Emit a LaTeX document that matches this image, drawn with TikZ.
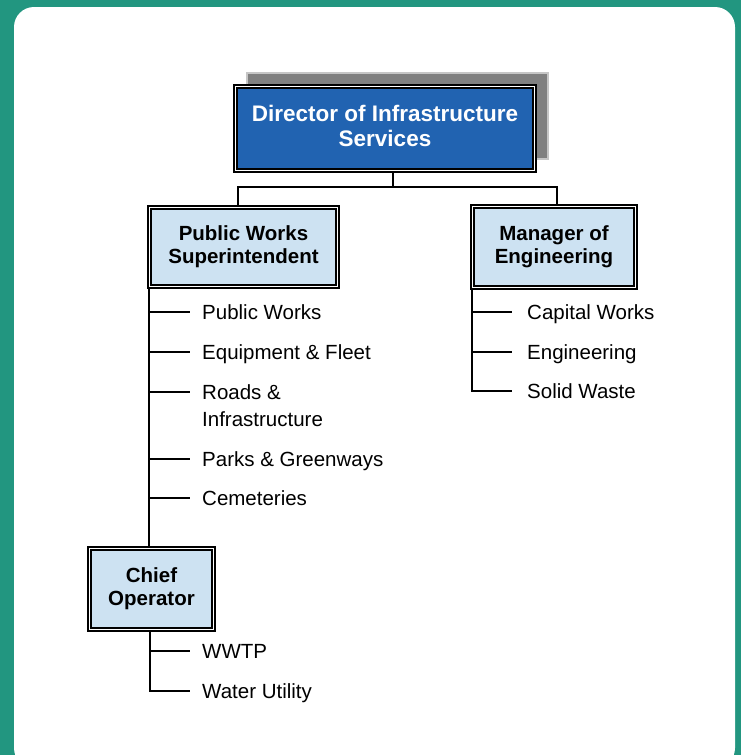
\documentclass[tikz,border=0pt]{standalone}
\usepackage{fontspec}
\setmainfont{Liberation Sans}
\usetikzlibrary{positioning}
\definecolor{orgteal}{RGB}{34,150,128}
\definecolor{orgblue}{RGB}{33,99,177}
\definecolor{orglight}{RGB}{205,226,242}
\definecolor{orgshade}{RGB}{128,128,128}

\tikzset{
  unitbox/.style={draw=black,double=white,double distance=1pt,line width=1.9pt,
    fill=orglight,align=center,inner sep=0pt,font=\bfseries\fontsize{20.5}{23}\selectfont},
  item/.style={anchor=west,inner xsep=12pt,inner ysep=0pt,text height=15pt,text depth=0pt,
    font=\fontsize{20.5}{27}\selectfont},
  tie/.style={line width=1.3pt,black}
}

\begin{document}
\begin{tikzpicture}[x=1pt,y=-1pt]
  % page and card
  \fill[orgteal] (0,0) rectangle (741,755);
  \useasboundingbox (0,0) rectangle (741,755);
  \fill[white,rounded corners=20pt] (14,7) rectangle (735,768);

  % top box with its shadow
  \draw[fill=orgshade,draw=gray!45,line width=1.5pt] (247,73) rectangle (548,159);
  \node[unitbox,fill=orgblue,text=white,minimum width=299pt,minimum height=84pt,
    font=\bfseries\fontsize{22.5}{25}\selectfont] (dir) at (385,128.5)
    {Director of Infrastructure\\Services\rule[-6pt]{0pt}{6pt}};

  \node[unitbox,minimum width=188pt,minimum height=79pt] (pws) at (243.5,247) {Public Works\\Superintendent};
  \node[unitbox,minimum width=163pt,minimum height=81pt] (moe) at (554,247) {Manager of\\Engineering};
  \node[unitbox,minimum width=124pt,minimum height=81pt] (chief) at (151.5,589) {Chief\\Operator};

  % bus under the director
  \coordinate (hub) at (393,187);
  \coordinate (pl) at (238,187);
  \coordinate (ml) at (557,187);
  \draw[tie] (dir.south -| hub) -- (hub);
  \draw[tie] (pws.north -| pl) -- (pl) -- (ml) -- (moe.north -| ml);

  % public works list
  \coordinate (ls) at (149,0);
  \node[item] (pw) at (190,312) {Public Works};
  \node[item] (fleet) at (190,352) {Equipment \& Fleet};
  \node[item,align=left,anchor=north west,text height=,text depth=] (roads) at (190,384) {Roads \&\\Infrastructure};
  \coordinate (roadstip) at ([yshift=-8pt]roads.north west);
  \node[item] (parks) at (190,459) {Parks \& Greenways};
  \node[item] (cem) at (190,498) {Cemeteries};
  \draw[tie] (pws.south -| ls) -- (chief.north -| ls);
  \draw[tie] (ls |- pw.west) -- (pw.west);
  \draw[tie] (ls |- fleet.west) -- (fleet.west);
  \draw[tie] (ls |- roadstip) -- (roadstip);
  \draw[tie] (ls |- parks.west) -- (parks.west);
  \draw[tie] (ls |- cem.west) -- (cem.west);

  % engineering list
  \coordinate (rs) at (472,0);
  \node[item,inner xsep=15pt] (cap) at (512,312) {Capital Works};
  \node[item,inner xsep=15pt] (eng) at (512,352) {Engineering};
  \node[item,inner xsep=15pt] (waste) at (512,391) {Solid Waste};
  \draw[tie] (moe.south -| rs) |- (waste.west);
  \draw[tie] (rs |- cap.west) -- (cap.west);
  \draw[tie] (rs |- eng.west) -- (eng.west);

  % operator list
  \coordinate (cs) at (150,0);
  \node[item] (wwtp) at (190,651) {WWTP};
  \node[item] (water) at (190,691) {Water Utility};
  \draw[tie] (chief.south -| cs) |- (water.west);
  \draw[tie] (cs |- wwtp.west) -- (wwtp.west);
\end{tikzpicture}
\end{document}
